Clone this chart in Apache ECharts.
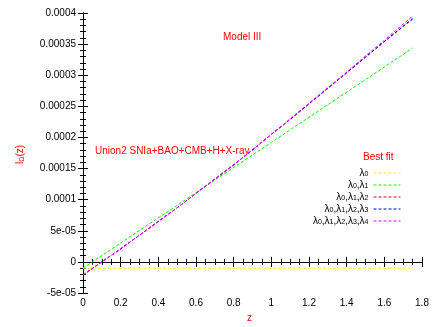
<!DOCTYPE html>
<html>
<head>
<meta charset="utf-8">
<script src="https://cdn.jsdelivr.net/npm/echarts@6/dist/echarts.min.js"></script>
<style>
  html, body { margin: 0; padding: 0; background: #fff; }
  #chart { width: 436px; height: 327px; }
</style>
</head>
<body>
<div id="chart"></div>
<script>
// z values where curves were read
const zLinear = [0, 0.25, 0.5, 0.75, 1.0, 1.25, 1.5, 1.75];
const zCurve = [0, 0.1, 0.2, 0.3, 0.4, 0.5, 0.6, 0.7, 0.8, 0.9, 1.0, 1.1, 1.2, 1.3, 1.4, 1.5, 1.6, 1.7, 1.75];

const seriesNames = ['λ0', 'λ0,λ1', 'λ0,λ1,λ2', 'λ0,λ1,λ2,λ3', 'λ0,λ1,λ2,λ3,λ4'];
const seriesColors = ['#ffff00', '#00ff00', '#ff0000', '#0000ff', '#ff00ff'];

const lambda0 = [-1.0e-5, -1.0e-5, -1.0e-5, -1.0e-5, -1.0e-5, -1.0e-5, -1.0e-5, -1.0e-5];
const lambda01 = [-1.0e-5, 4.05e-5, 9.1e-5, 1.415e-4, 1.92e-4, 2.425e-4, 2.93e-4, 3.435e-4];
const lambda012 = [-2.1e-5, 0.0, 2.1e-5, 4.3e-5, 6.5e-5, 8.7e-5, 1.10e-4, 1.33e-4, 1.56e-4, 1.80e-4,
  2.05e-4, 2.29e-4, 2.54e-4, 2.79e-4, 3.04e-4, 3.29e-4, 3.54e-4, 3.78e-4, 3.90e-4];
const lambda0123 = [-2.1e-5, 0.0, 2.1e-5, 4.3e-5, 6.5e-5, 8.7e-5, 1.10e-4, 1.33e-4, 1.56e-4, 1.80e-4,
  2.05e-4, 2.29e-4, 2.54e-4, 2.79e-4, 3.04e-4, 3.29e-4, 3.54e-4, 3.79e-4, 3.91e-4];
const lambda01234 = [-2.1e-5, 0.0, 2.1e-5, 4.3e-5, 6.5e-5, 8.7e-5, 1.10e-4, 1.33e-4, 1.56e-4, 1.80e-4,
  2.05e-4, 2.30e-4, 2.55e-4, 2.80e-4, 3.05e-4, 3.31e-4, 3.56e-4, 3.82e-4, 3.95e-4];

const yTickLabels = ['-5e-05', '0', '5e-05', '0.0001', '0.00015', '0.0002', '0.00025', '0.0003', '0.00035', '0.0004'];
const xTickLabels = ['0', '0.2', '0.4', '0.6', '0.8', '1', '1.2', '1.4', '1.6', '1.8'];

const yMin = -5e-5, yMax = 4e-4, yStep = 5e-5;
const xMin = 0, xMax = 1.8, xStep = 0.2;

const font = 'Liberation Sans, Arial, sans-serif';

const pairs = (xs, ys) => xs.map((x, i) => [x, ys[i]]);
const seriesData = [
  pairs(zLinear, lambda0),
  pairs(zLinear, lambda01),
  pairs(zCurve, lambda012),
  pairs(zCurve, lambda0123),
  pairs(zCurve, lambda01234)
];

const chart = echarts.init(document.getElementById('chart'), null, { renderer: 'canvas' });

const axisLine = { show: true, lineStyle: { color: '#000', width: 1 } };
const axisTick = { show: true, inside: true, length: 5, lineStyle: { color: '#000' } };
const minorX = { show: true, splitNumber: 4, length: 3, lineStyle: { color: '#000' } };
const minorY = { show: true, splitNumber: 5, length: 3, lineStyle: { color: '#000' } };

const option = {
  animation: false,
  backgroundColor: '#fff',
  grid: { left: 83, right: 14, top: 13, bottom: 34, containLabel: false },
  xAxis: [
    {
      type: 'value', min: xMin, max: xMax, interval: xStep,
      axisLine: axisLine, axisTick: axisTick, minorTick: minorX, splitLine: { show: false },
      axisLabel: {
        margin: 5, color: '#000', fontSize: 10, fontFamily: font,
        formatter: (v) => xTickLabels[Math.round((v - xMin) / xStep)]
      }
    },
    {
      type: 'value', position: 'top', min: xMin, max: xMax, interval: xStep,
      axisLine: axisLine, axisTick: axisTick, minorTick: minorX, splitLine: { show: false },
      axisLabel: { show: false }
    }
  ],
  yAxis: [
    {
      type: 'value', min: yMin, max: yMax, interval: yStep,
      axisLine: axisLine, axisTick: axisTick, minorTick: minorY, splitLine: { show: false },
      axisLabel: {
        margin: 7, color: '#000', fontSize: 10, fontFamily: font,
        formatter: (v) => yTickLabels[Math.round((v - yMin) / yStep)]
      }
    },
    {
      type: 'value', position: 'right', min: yMin, max: yMax, interval: yStep,
      axisLine: axisLine, axisTick: axisTick, minorTick: minorY, splitLine: { show: false },
      axisLabel: { show: false }
    }
  ],
  legend: {
    orient: 'vertical',
    right: 30,
    top: 163,
    align: 'right',
    itemWidth: 27,
    itemHeight: 10,
    itemGap: 2,
    data: seriesNames,
    itemStyle: { opacity: 0 },
    lineStyle: { width: 1 },
    textStyle: {
      fontFamily: font, fontSize: 10, color: '#000', lineHeight: 10,
      rich: {
        l: { fontFamily: font, fontSize: 10, color: '#000' },
        s: { fontFamily: font, fontSize: 7, color: '#000', verticalAlign: 'bottom', padding: [4, 0, 0, 0] }
      }
    },
    formatter: (name) => name.replace(/λ(\d)/g, '{l|λ}{s|$1}')
  },
  graphic: [
    {
      type: 'text', left: 223, top: 32,
      style: { text: 'Model III', fill: '#ff0000', font: '10px ' + font }
    },
    {
      type: 'text', left: 95, top: 146,
      style: { text: 'Union2 SNIa+BAO+CMB+H+X-ray', fill: '#ff0000', font: '10px ' + font }
    },
    {
      type: 'text', left: 363, top: 152,
      style: { text: 'Best fit', fill: '#ff0000', font: '10px ' + font }
    },
    {
      type: 'text', left: 247, top: 313,
      style: { text: 'z', fill: '#ff0000', font: '10px ' + font }
    },
    {
      type: 'text', x: 15, y: 164, rotation: Math.PI / 2,
      style: {
        text: '{a|l}{b|Ω}{a|(z)}',
        rich: {
          a: { fill: '#ff0000', fontSize: 10, fontFamily: font },
          b: { fill: '#ff0000', fontSize: 7, fontFamily: font, padding: [4, 0, 0, 0] }
        }
      }
    }
  ],
  series: seriesNames.map((name, i) => ({
    name: name,
    type: 'line',
    data: seriesData[i],
    symbol: 'none',
    smooth: false,
    color: seriesColors[i],
    lineStyle: { color: seriesColors[i], width: 1, type: [3, 2] },
    z: 2 + i
  }))
};

chart.setOption(option);
</script>
</body>
</html>
